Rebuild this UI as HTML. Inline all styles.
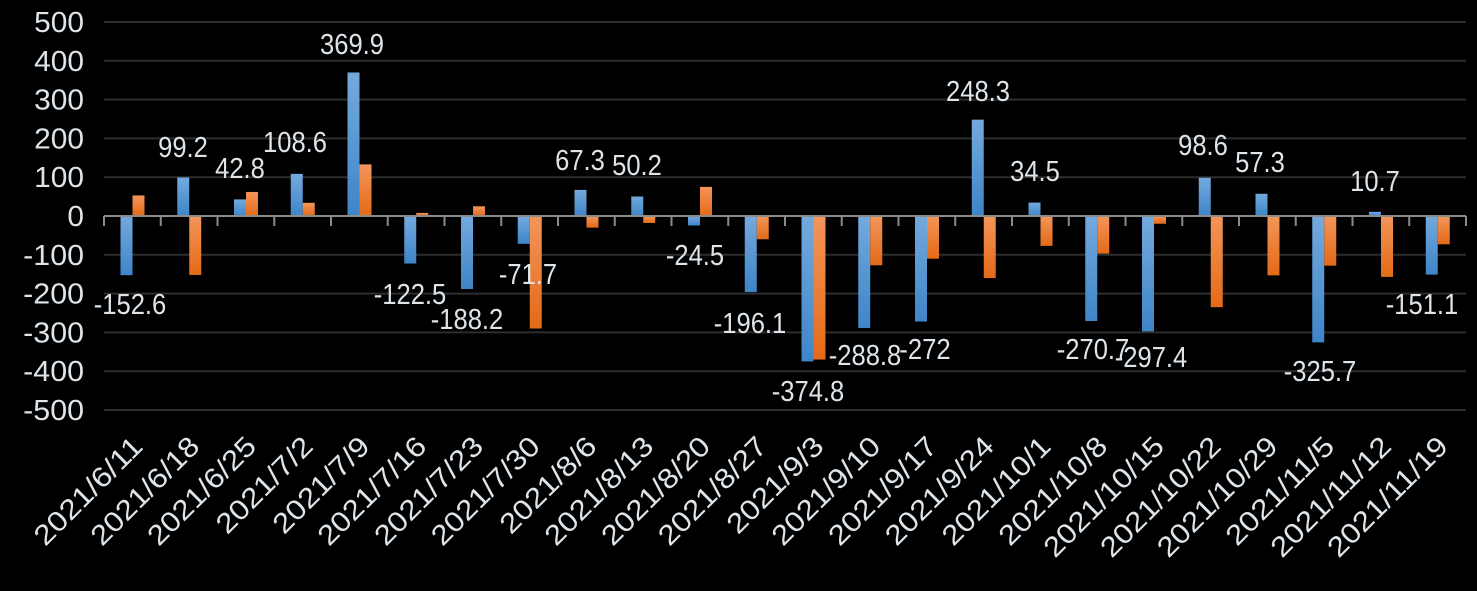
<!DOCTYPE html>
<html><head><meta charset="utf-8"><style>
html,body{margin:0;padding:0;background:#000;}
svg{display:block;}
text{font-family:"Liberation Sans",sans-serif;fill:#dde4ea;}
</style></head><body>
<svg id="c" width="1477" height="591" xmlns="http://www.w3.org/2000/svg">
<defs>
<linearGradient id="gb" x1="0" y1="0" x2="0" y2="1"><stop offset="0" stop-color="#74a9dd"/><stop offset="1" stop-color="#3e85c8"/></linearGradient>
<linearGradient id="go" x1="0" y1="0" x2="0" y2="1"><stop offset="0" stop-color="#f3955a"/><stop offset="1" stop-color="#e46a16"/></linearGradient>
</defs>
</svg>
<script>
var s=document.getElementById('c'),NS='http://www.w3.org/2000/svg';
function el(t,a,txt){var e=document.createElementNS(NS,t);for(var k in a)e.setAttribute(k,a[k]);if(txt!=null)e.textContent=txt;s.appendChild(e);return e;}
function tl(str,d,dot,dash,sl){var w=0;for(var c of str){if(c>='0'&&c<='9')w+=d;else if(c=='.')w+=dot;else if(c=='-')w+=dash;else w+=sl;}return w;}
var x0=104,x1=1466,z=216,k=0.388,n=24,cw=(x1-x0)/n;
for(var v=-500;v<=500;v+=100){var y=z-v*k;
 if(v!=0)el('line',{x1:x0,x2:x1,y1:y,y2:y,stroke:'#2e2e2e','stroke-width':2});
 var st=String(v);
 el('text',{x:84,y:y+10,'text-anchor':'end','font-size':29,textLength:tl(st,16.6,7,11,10),lengthAdjust:'spacingAndGlyphs'},st);}
var cats=["2021/6/11","2021/6/18","2021/6/25","2021/7/2","2021/7/9","2021/7/16","2021/7/23","2021/7/30","2021/8/6","2021/8/13","2021/8/20","2021/8/27","2021/9/3","2021/9/10","2021/9/17","2021/9/24","2021/10/1","2021/10/8","2021/10/15","2021/10/22","2021/10/29","2021/11/5","2021/11/12","2021/11/19"];
var b=[-152.6,99.2,42.8,108.6,369.9,-122.5,-188.2,-71.7,67.3,50.2,-24.5,-196.1,-374.8,-288.8,-272,248.3,34.5,-270.7,-297.4,98.6,57.3,-325.7,10.7,-151.1];
var o=[53,-152,62,34,133,8,25,-290,-30,-18,75,-60,-370,-127,-110,-160,-77,-97,-20,-235,-153,-128,-157,-73];
var lp=[[130,314],[183,157],[240,178],[295,152],[352,54],[410,304],[467,329],[528,284],[580,170],[637,175],[695,265],[750,333],[808,401],[865,365],[925,359],[978,101],[1035,181],[1093,359],[1151,367],[1203,155],[1260,172],[1320,381],[1375,191],[1422,314]];
for(var i=0;i<n;i++){var cx=x0+i*cw,bx=cx+16.5;
 function bar(x,v,f){var y=v>=0?z-v*k:z,h=Math.abs(v)*k;el('rect',{x:x,y:y,width:12,height:h,fill:f});}
 bar(bx,b[i],'url(#gb)');bar(bx+12,o[i],'url(#go)');
 var st=String(b[i]);
 el('text',{x:lp[i][0],y:lp[i][1],'text-anchor':'middle','font-size':29,textLength:tl(st,14.3,6.8,8.5,10),lengthAdjust:'spacingAndGlyphs'},st);
 var tx=cx+cw/2+12,ty=448;
 el('text',{x:tx,y:ty,'text-anchor':'end','font-size':28,textLength:tl(cats[i],16.6,0,0,12),lengthAdjust:'spacingAndGlyphs',transform:'rotate(-45 '+tx+' '+ty+')'},cats[i]);
}
el('line',{x1:x0,x2:x1,y1:z,y2:z,stroke:'#8c8c8c','stroke-width':2});
for(var i=0;i<=n;i++){var x=x0+i*cw;el('line',{x1:x,x2:x,y1:z,y2:z+10,stroke:'#8c8c8c','stroke-width':2});}
</script>
</body></html>
